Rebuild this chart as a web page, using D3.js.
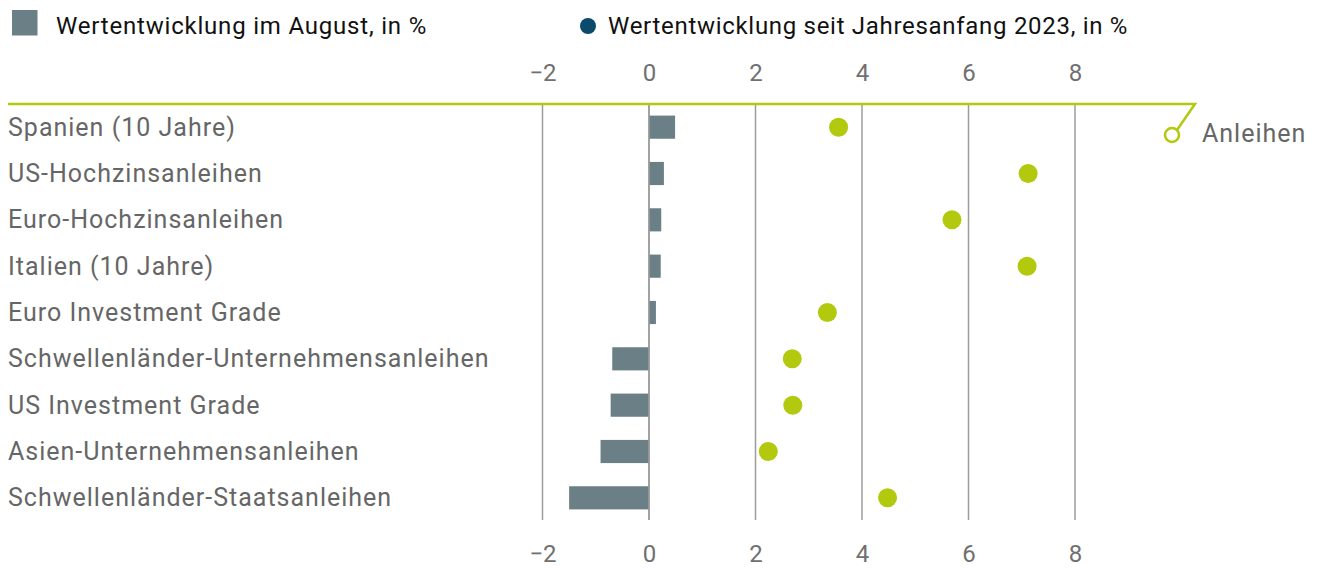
<!DOCTYPE html>
<html>
<head>
<meta charset="utf-8">
<title>Anleihen</title>
<style>
  body { margin: 0; background: #fff; }
  text { font-family: Roboto, "Noto Sans", sans-serif; }
</style>
</head>
<body>
<div class="plot_container"></div>
<script src="https://cdnjs.cloudflare.com/ajax/libs/d3/7.8.5/d3.min.js"></script>
<script>
// data
var categories = [
    "Spanien (10 Jahre)",
    "US-Hochzinsanleihen",
    "Euro-Hochzinsanleihen",
    "Italien (10 Jahre)",
    "Euro Investment Grade",
    "Schwellenländer-Unternehmensanleihen",
    "US Investment Grade",
    "Asien-Unternehmensanleihen",
    "Schwellenländer-Staatsanleihen"
];
var august = [0.49, 0.28, 0.23, 0.22, 0.13, -0.69, -0.72, -0.91, -1.50];
var ytd = [3.56, 7.12, 5.69, 7.10, 3.35, 2.69, 2.70, 2.24, 4.48];
var tickValues = [-2, 0, 2, 4, 6, 8];
var legendLabels = ["Wertentwicklung im August, in %", "Wertentwicklung seit Jahresanfang 2023, in %"];
var groupLabel = "Anleihen";

var width = 1317, height = 568;
var green = "#b2c90d", barColor = "#6b8086", navy = "#0b4a6b";
var grey = "#666666", gridColor = "#9c9c9c";

var svg = d3.select(".plot_container").append("svg")
    .attr("width", width)
    .attr("height", height);

var x = d3.scaleLinear().domain([-2, 8]).range([542.5, 1075]);
var y = d3.scaleBand().domain(categories).range([104, 521])
    .paddingInner(0.5).paddingOuter(0.25);

// grid lines
svg.selectAll(".grid")
    .data(tickValues)
    .enter()
    .append("line")
    .attr("class", "grid")
    .attr("x1", function(d){ return x(d); })
    .attr("x2", function(d){ return x(d); })
    .attr("y1", 104)
    .attr("y2", 520)
    .attr("stroke", gridColor)
    .attr("stroke-width", 1.5);

// axes (labels only)
var topAxis = svg.append("g")
    .attr("transform", "translate(0,81)")
    .call(d3.axisTop(x).tickValues(tickValues).tickSize(0).tickPadding(0));
var bottomAxis = svg.append("g")
    .attr("transform", "translate(0,545)")
    .call(d3.axisBottom(x).tickValues(tickValues).tickSize(0).tickPadding(0));
[topAxis, bottomAxis].forEach(function(g){
    g.select(".domain").remove();
    g.selectAll("text")
        .attr("fill", "#707070")
        .style("font-size", "24px")
        .style("font-family", "Roboto, sans-serif");
});

// bars
svg.selectAll(".bar")
    .data(august)
    .enter()
    .append("rect")
    .attr("class", "bar")
    .attr("x", function(d){ return x(Math.min(0, d)); })
    .attr("y", function(d, i){ return y(categories[i]); })
    .attr("width", function(d){ return Math.abs(x(d) - x(0)); })
    .attr("height", y.bandwidth())
    .attr("fill", barColor);

// zero line on top of the bars
svg.append("line")
    .attr("x1", x(0)).attr("x2", x(0))
    .attr("y1", 104).attr("y2", 520)
    .attr("stroke", gridColor)
    .attr("stroke-width", 1.5);

// dots
svg.selectAll(".dot")
    .data(ytd)
    .enter()
    .append("circle")
    .attr("class", "dot")
    .attr("cx", function(d){ return x(d); })
    .attr("cy", function(d, i){ return y(categories[i]) + y.bandwidth() / 2; })
    .attr("r", 9.5)
    .attr("fill", green);

// category labels
svg.selectAll(".cat")
    .data(categories)
    .enter()
    .append("text")
    .attr("class", "cat")
    .attr("x", 8)
    .attr("y", function(d){ return y(d) + y.bandwidth() / 2 + 8.5; })
    .attr("fill", grey)
    .style("font-size", "25px")
    .style("letter-spacing", "1px")
    .text(function(d){ return d; });

// group bracket: top line + hook to the label
svg.append("path")
    .attr("d", "M8,104 L1195,104 L1177,130")
    .attr("fill", "none")
    .attr("stroke", green)
    .attr("stroke-width", 2.5);
svg.append("circle")
    .attr("cx", 1172).attr("cy", 135).attr("r", 7)
    .attr("fill", "#fff")
    .attr("stroke", green)
    .attr("stroke-width", 2.5);
svg.append("text")
    .attr("x", 1202).attr("y", 142)
    .attr("fill", grey)
    .style("font-size", "25px")
    .style("letter-spacing", "1px")
    .text(groupLabel);

// legend
svg.append("rect")
    .attr("x", 12).attr("y", 10).attr("width", 25.5).attr("height", 25.5)
    .attr("fill", barColor);
svg.append("text")
    .attr("x", 56).attr("y", 33.5)
    .attr("fill", "#111")
    .style("font-size", "24px")
    .style("letter-spacing", "0.8px")
    .text(legendLabels[0]);
svg.append("circle")
    .attr("cx", 588).attr("cy", 26).attr("r", 8)
    .attr("fill", navy);
svg.append("text")
    .attr("x", 608).attr("y", 33.5)
    .attr("fill", "#111")
    .style("font-size", "24px")
    .style("letter-spacing", "0.7px")
    .text(legendLabels[1]);
</script>
</body>
</html>
